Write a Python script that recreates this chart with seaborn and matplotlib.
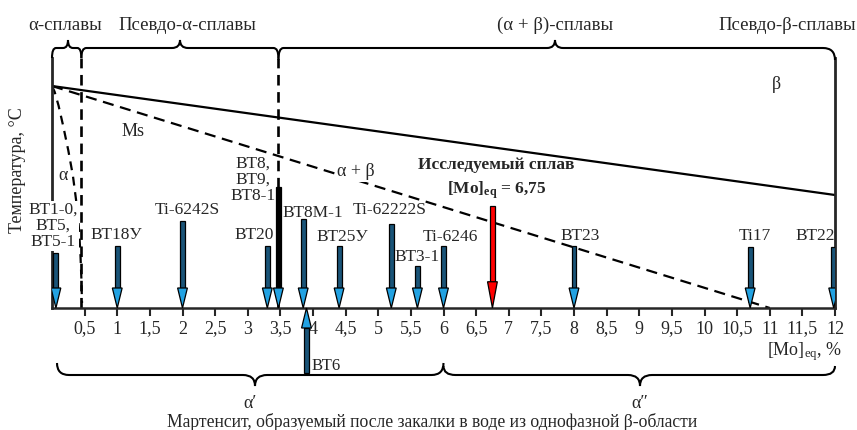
import numpy as np
import matplotlib
matplotlib.use("Agg")
import matplotlib.pyplot as plt
import seaborn as sns
from matplotlib.path import Path
from matplotlib.patches import PathPatch
from matplotlib.transforms import Affine2D

# ---------------- data ----------------
alloy_labels = ["ВТ1-0,\nВТ5,\nВТ5-1", "ВТ18У", "Ti-6242S", "ВТ20", "ВТ8,\nВТ9,\nВТ8-1",
                "ВТ8М-1", "ВТ25У", "Ti-62222S", "ВТ3-1", "Ti-6246", "", "ВТ23", "Ti17", "ВТ22"]
alloy_mo = [0.06, 1.0, 2.0, 3.3, 3.47, 3.85, 4.4, 5.2, 5.6, 6.0, 6.75, 8.0, 10.7, 11.98]
alloy_top = [22.0, 24.8, 34.8, 24.8, 48.4, 35.6, 24.8, 33.6, 16.8, 24.8, 40.8, 24.8, 24.4, 24.4]
alloy_kind = ["b", "b", "b", "b", "k", "b", "b", "b", "b", "b", "r", "b", "b", "b"]
label_x = [0.02, 0.98, 2.07, 3.1, 3.08, 3.99, 4.45, 5.18, 5.6, 6.1, 6.81, 8.1, 10.77, 11.69]
label_y = [32.8, 29.2, 39.2, 29.2, 51.2, 38.0, 28.4, 39.2, 20.4, 28.4, 0, 28.8, 28.8, 28.8]

bt6_label = "ВТ6"
bt6_mo = 3.9
bt6_depth = -26.0

beta_x = [0, 12]
beta_y = [88.8, 45.2]
ab_x = [0, 11]
ab_y = [88.8, 0]
ms_x = [0, 0.04, 0.1, 0.17, 0.25, 0.32, 0.37, 0.41, 0.435, 0.45, 0.46]
ms_y = [88.8, 86.5, 81.0, 73.0, 63.0, 53.0, 43.0, 33.0, 22.0, 12.0, 2.0]
bound_x = [0.45, 3.47]

xticks = [0.5 * i for i in range(1, 25)]
xtick_labels = [("%g" % v).replace(".", ",") for v in xticks]

# ---------------- style ----------------
sns.set_style("ticks")
plt.rcParams["font.family"] = ["Liberation Serif", "DejaVu Serif"]
plt.rcParams["mathtext.fontset"] = "custom"
plt.rcParams["mathtext.rm"] = "Liberation Serif"
plt.rcParams["mathtext.it"] = "Liberation Serif:italic"
plt.rcParams["mathtext.bf"] = "Liberation Serif:bold"

W, H = 857, 430
fig = plt.figure(figsize=(W / 100, H / 100), dpi=100)
ax = fig.add_axes([52 / W, 122 / H, 783 / W, 250 / H])
ax.set_xlim(0, 12)
ax.set_ylim(0, 100)

# lines
sns.lineplot(x=beta_x, y=beta_y, ax=ax, color="black", lw=1.6)
ax.plot(ab_x, ab_y, color="black", lw=1.6, ls=(0, (5, 3)))
ax.plot(ms_x, ms_y, color="black", lw=1.6, ls=(0, (4, 3)))
ax.vlines(bound_x, 0, 100, colors="black", lw=1.9, linestyles=(0, (4, 2.5)))

# arrows
shaft_w = 0.075
head_w = 0.15
cols = {"b": ("#1a5478", "#22a2e2"), "k": ("#000000", "#22a2e2"), "r": ("#ff0000", "#ff0000")}
for x, top, kind in zip(alloy_mo, alloy_top, alloy_kind):
    sc, hc = cols[kind]
    hl = 10.5 if kind == "r" else 8.0
    ax.bar(x, top - hl, bottom=hl, width=shaft_w, color=sc, edgecolor="black", lw=0.9, zorder=4)
    ax.fill([x - head_w / 2, x + head_w / 2, x], [hl, hl, 0], facecolor=hc, edgecolor="black", lw=0.9, zorder=5)
# BT6 from below
hl = 8.0
ax.bar(bt6_mo, bt6_depth + hl, bottom=-hl, width=shaft_w, color="#1a5478", edgecolor="black", lw=0.9,
       zorder=4, clip_on=False)
ax.fill([bt6_mo - head_w / 2, bt6_mo + head_w / 2, bt6_mo], [-hl, -hl, 0], facecolor="#22a2e2",
        edgecolor="black", lw=0.9, zorder=5, clip_on=False)
ax.text(bt6_mo + 0.08, -23.0, bt6_label, fontsize=12, ha="left", va="center", clip_on=False)

# alloy labels
for lab, lx, ly in zip(alloy_labels, label_x, label_y):
    if not lab:
        continue
    kw = {}
    if lab.startswith("ВТ1-0"):
        kw["bbox"] = dict(facecolor="white", edgecolor="none", pad=0.5)
    ax.text(lx, ly, lab, fontsize=12.5, ha="center", va="center", linespacing=1.0, zorder=6, **kw)

ax.text(6.81, 57.2, "Исследуемый сплав", fontsize=12.5, fontweight="bold", ha="center", va="center", zorder=6)
ax.text(6.81, 47.2, r"[Mo]$_{\mathbf{eq}}$ = 6,75", fontsize=12.5, fontweight="bold", ha="center",
        va="center", zorder=6)

ax.text(1.24, 70.8, "Ms", fontsize=13, ha="center", va="center")
ax.text(4.65, 54.4, "α + β", fontsize=13, ha="center", va="center",
        bbox=dict(facecolor="white", edgecolor="none", pad=1))
ax.text(11.1, 89.2, "β", fontsize=13, ha="center", va="center")
ax.text(0.17, 53.2, "α", fontsize=13, ha="center", va="center")

# axes styling
for s in ["left", "right"]:
    ax.spines[s].set_linewidth(2.0)
ax.spines["bottom"].set_linewidth(1.8)
ax.spines["top"].set_visible(False)
ax.set_yticks([])
ax.set_xticks(xticks)
ax.set_xticklabels(xtick_labels)
ax.tick_params(axis="x", direction="out", length=6, width=1.5, pad=3, labelsize=13)
ax.text(12.1, -17.5, r"[Mo]$_{\rm eq}$, %", fontsize=13, ha="right", va="center", clip_on=False)

fig.text(18 / W, 1 - 170 / H, "Температура, °C", rotation=90, ha="center", va="center", fontsize=13)

# braces (pixel coordinates, y from top)
ptrans = Affine2D().scale(1 / W, -1 / H).translate(0, 1) + fig.transFigure


def px(x):
    return ax.transData.transform((x, 0))[0]


def brace(x0, x1, xm, ybar, yend, ytip, r0=8, rm=8, r1=8):
    verts = [(x0, yend), (x0, ybar), (x0 + r0, ybar),
             (xm - rm, ybar), (xm, ybar), (xm, ytip),
             (xm, ybar), (xm + rm, ybar),
             (x1 - r1, ybar), (x1, ybar), (x1, yend)]
    codes = [Path.MOVETO, Path.CURVE3, Path.CURVE3,
             Path.LINETO, Path.CURVE3, Path.CURVE3,
             Path.CURVE3, Path.CURVE3,
             Path.LINETO, Path.CURVE3, Path.CURVE3]
    fig.patches.append(PathPatch(Path(verts, codes), transform=ptrans, fill=False,
                                 edgecolor="black", lw=1.5, figure=fig))


brace(px(0), px(0.45), 68, 48, 58, 40, 4, 5, 4)
brace(px(0.45), px(3.47), 180, 48, 58, 40, 5, 8, 5)
brace(px(3.47), px(12), 555, 48, 60, 40, 5, 8, 12)
brace(57, px(6), 255, 375, 363, 386, 12, 12, 12)
brace(px(6), 835, 640, 375, 366, 386, 12, 12, 12)

top_kw = dict(fontsize=13.5, ha="center", va="center")
fig.text(65 / W, 1 - 25 / H, "α-сплавы", **top_kw)
fig.text(187 / W, 1 - 25 / H, "Псевдо-α-сплавы", **top_kw)
fig.text(555 / W, 1 - 25 / H, "(α + β)-сплавы", **top_kw)
fig.text(787 / W, 1 - 25 / H, "Псевдо-β-сплавы", **top_kw)

fig.text(250 / W, 1 - 403 / H, "α′", fontsize=13, ha="center", va="center")
fig.text(640 / W, 1 - 403 / H, "α″", fontsize=13, ha="center", va="center")
fig.text(432 / W, 1 - 422 / H, "Мартенсит, образуемый после закалки в воде из однофазной β-области",
         fontsize=12.7, ha="center", va="center")

fig.savefig("out.png", dpi=100)
